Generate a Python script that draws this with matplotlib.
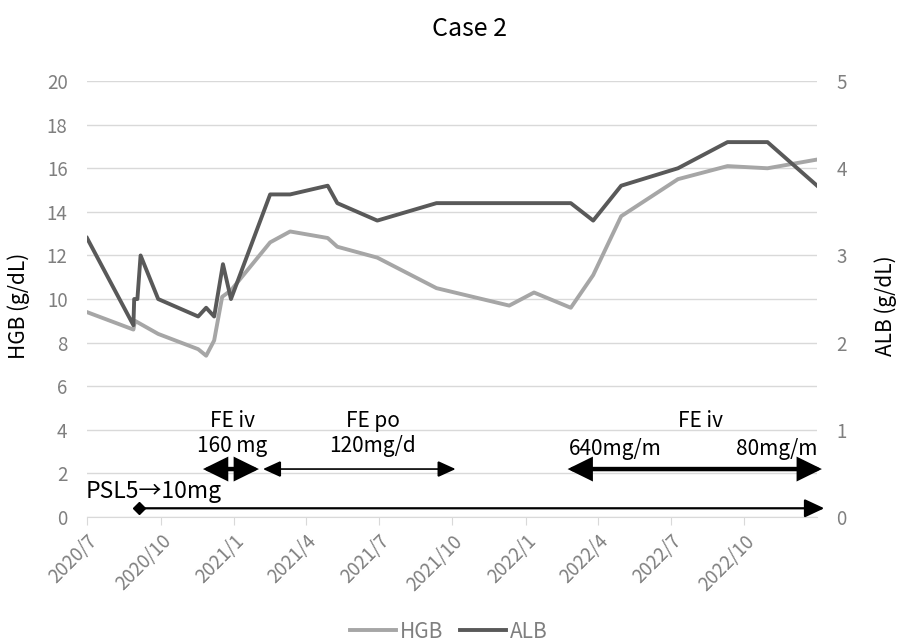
import pandas as pd
import matplotlib
matplotlib.use("Agg")
import matplotlib.pyplot as plt

plt.rcParams['font.family'] = ['Noto Sans CJK JP', 'DejaVu Sans']

# HGB series (g/dL)
hgb_dates = pd.to_datetime([
    '2020-07-01', '2020-08-28', '2020-08-30', '2020-09-28', '2020-11-17',
    '2020-11-27', '2020-12-07', '2020-12-17', '2020-12-28', '2021-02-15',
    '2021-03-12', '2021-04-28', '2021-05-10', '2021-06-29', '2021-09-11',
    '2021-12-11', '2022-01-11', '2022-02-26', '2022-03-26', '2022-04-30',
    '2022-07-10', '2022-09-10', '2022-10-30', '2022-12-31'])
hgb = [9.4, 8.6, 9.0, 8.4, 7.7, 7.4, 8.1, 10.1, 10.4, 12.6,
       13.1, 12.8, 12.4, 11.9, 10.5, 9.7, 10.3, 9.6, 11.1, 13.8,
       15.5, 16.1, 16.0, 16.4]

# ALB series (g/dL)
alb_dates = pd.to_datetime([
    '2020-07-01', '2020-08-28', '2020-08-29', '2020-09-02', '2020-09-06',
    '2020-09-28', '2020-11-17', '2020-11-27', '2020-12-07', '2020-12-18',
    '2020-12-28', '2021-02-15', '2021-03-12', '2021-04-28', '2021-05-10',
    '2021-06-29', '2021-09-11', '2022-02-26', '2022-03-26', '2022-04-30',
    '2022-07-10', '2022-09-10', '2022-10-30', '2022-12-31'])
alb = [3.2, 2.2, 2.5, 2.5, 3.0, 2.5, 2.3, 2.4, 2.3, 2.9,
       2.5, 3.7, 3.7, 3.8, 3.6, 3.4, 3.6, 3.6, 3.4, 3.8,
       4.0, 4.3, 4.3, 3.8]

tick_dates = pd.to_datetime(['2020-07-01', '2020-10-01', '2021-01-01', '2021-04-01',
                             '2021-07-01', '2021-10-01', '2022-01-01', '2022-04-01',
                             '2022-07-01', '2022-10-01'])
tick_labels = ['2020/7', '2020/10', '2021/1', '2021/4', '2021/7', '2021/10',
               '2022/1', '2022/4', '2022/7', '2022/10']

# treatment periods (start, end) on the HGB scale
psl_start, psl_end = pd.Timestamp('2020-09-04'), pd.Timestamp('2023-01-09')
feiv1 = (pd.Timestamp('2020-11-23'), pd.Timestamp('2021-02-01'))
fepo = (pd.Timestamp('2021-02-06'), pd.Timestamp('2021-10-05'))
feiv2 = (pd.Timestamp('2022-02-22'), pd.Timestamp('2023-01-06'))

gray = '#7f7f7f'
grid = '#d9d9d9'
fs = 15

fig = plt.figure(figsize=(8.98, 6.42), dpi=100)
ax = fig.add_axes([0.0969, 0.1947, 0.813, 0.679])
ax2 = ax.twinx()

ax.plot(hgb_dates, hgb, color='#a6a6a6', lw=2.8, label='HGB', zorder=3)
ax2.plot(alb_dates, alb, color='#595959', lw=2.8, label='ALB', zorder=3)

ax.set_xlim(pd.Timestamp('2020-07-01'), pd.Timestamp('2022-12-31'))
ax.set_ylim(0, 20)
ax2.set_ylim(0, 5)
ax.set_yticks(range(0, 21, 2))
ax2.set_yticks(range(0, 6))
ax.set_xticks(tick_dates)
ax.set_xticklabels(tick_labels, rotation=45, ha='right', rotation_mode='anchor')

ax.grid(axis='y', color=grid, lw=1)
ax.set_axisbelow(True)
for a in (ax, ax2):
    for s in a.spines.values():
        s.set_visible(False)
ax.spines['bottom'].set_visible(True)
ax.spines['bottom'].set_color(grid)
ax.tick_params(axis='x', colors=gray, labelsize=13.5, length=6, color=grid, pad=4)
ax.tick_params(axis='y', colors=gray, labelsize=13.5, length=0, pad=14)
ax2.tick_params(axis='y', colors=gray, labelsize=13.5, length=0, pad=14)

ax.set_ylabel('HGB (g/dL)', fontsize=fs, color='black')
ax2.set_ylabel('ALB (g/dL)', fontsize=fs, color='black', rotation=90)
ax.yaxis.set_label_coords(-0.078, 0.485)
ax2.yaxis.set_label_coords(1.079, 0.485)

fig.text(0.523, 0.955, 'Case 2', ha='center', va='center', fontsize=18)

thick = dict(arrowstyle='<|-|>,head_length=0.65,head_width=0.32', color='black', lw=3.2,
             mutation_scale=20, shrinkA=0, shrinkB=0, joinstyle='miter')
thin = dict(arrowstyle='<|-|>,head_length=0.55,head_width=0.25', color='black', lw=1.2,
            mutation_scale=20, shrinkA=0, shrinkB=0, joinstyle='miter')

# PSL arrow
ax.annotate('', xy=(psl_end, 0.4), xytext=(psl_start, 0.4),
            arrowprops=dict(arrowstyle='-|>,head_length=0.6,head_width=0.28', color='black',
                            lw=1.6, mutation_scale=20, shrinkA=0, shrinkB=0),
            annotation_clip=False)
ax.plot([psl_start], [0.4], marker='D', color='black', ms=6, clip_on=False, zorder=5)
ax.text(pd.Timestamp('2020-09-22'), 1.15, 'PSL5→10mg', ha='center', va='center', fontsize=16.5)

# FE iv 160 mg
ax.annotate('', xy=(feiv1[1], 2.2), xytext=(feiv1[0], 2.2), arrowprops=thick,
            annotation_clip=False)
ax.text(pd.Timestamp('2020-12-30'), 4.4, 'FE iv', ha='center', va='center', fontsize=fs)
ax.text(pd.Timestamp('2020-12-30'), 3.25, '160 mg', ha='center', va='center', fontsize=fs)

# FE po
ax.annotate('', xy=(fepo[1], 2.2), xytext=(fepo[0], 2.2), arrowprops=thin,
            annotation_clip=False)
ax.text(pd.Timestamp('2021-06-23'), 4.4, 'FE po', ha='center', va='center', fontsize=fs)
ax.text(pd.Timestamp('2021-06-23'), 3.25, '120mg/d', ha='center', va='center', fontsize=fs)

# FE iv 640 -> 80
ax.annotate('', xy=(feiv2[1], 2.2), xytext=(feiv2[0], 2.2), arrowprops=thick,
            annotation_clip=False)
ax.text(pd.Timestamp('2022-08-07'), 4.4, 'FE iv', ha='center', va='center', fontsize=fs)
ax.text(pd.Timestamp('2022-04-23'), 3.1, '640mg/m', ha='center', va='center', fontsize=fs)
ax.text(pd.Timestamp('2022-11-11'), 3.1, '80mg/m', ha='center', va='center', fontsize=fs)

h1, l1 = ax.get_legend_handles_labels()
h2, l2 = ax2.get_legend_handles_labels()
leg = fig.legend(h1 + h2, l1 + l2, loc='center', bbox_to_anchor=(0.5, 0.016), ncol=2,
                 frameon=False, fontsize=15, handlelength=2.2, columnspacing=0.8,
                 handletextpad=0.2)
for t in leg.get_texts():
    t.set_color(gray)

fig.savefig('out.png', dpi=100)
